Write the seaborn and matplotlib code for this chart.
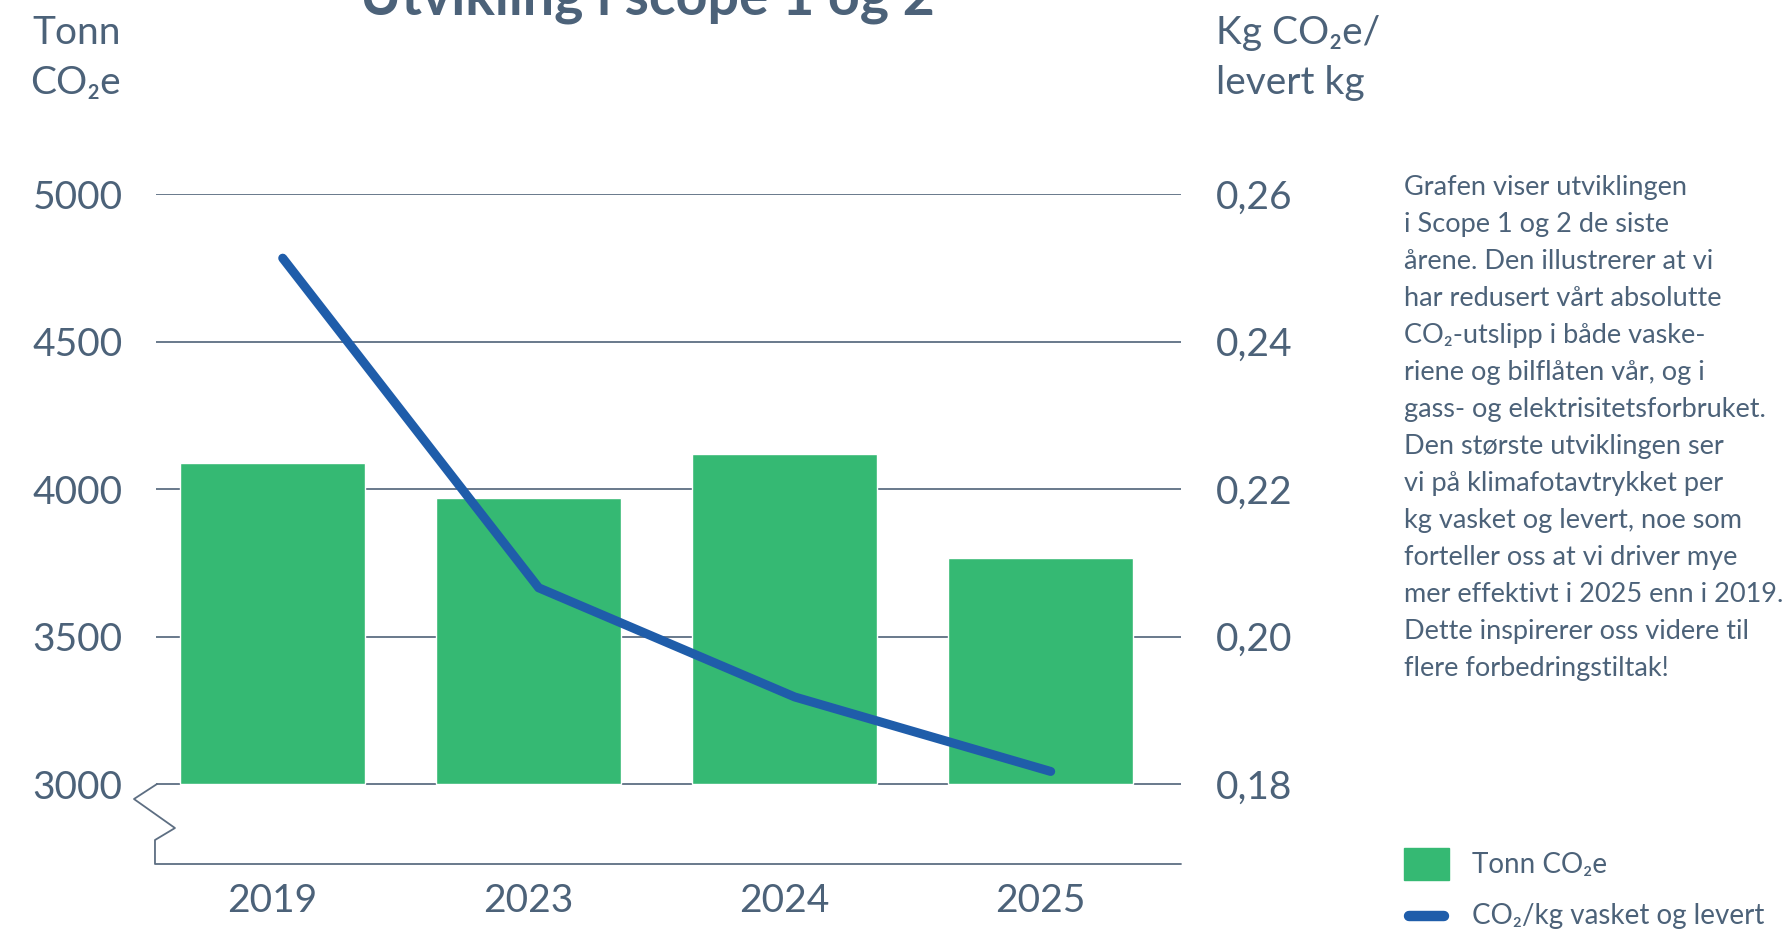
import numpy as np
import pandas as pd
import seaborn as sns
import matplotlib.pyplot as plt
from matplotlib.lines import Line2D
from matplotlib.patches import Rectangle

# ---- data ----
years = ["2019", "2023", "2024", "2025"]
tonn_co2e = [4090, 3970, 4120, 3765]
kg_per_kg = [0.2513, 0.2066, 0.1918, 0.1817]
bar_base = 3000
left_ticks = [3000, 3500, 4000, 4500, 5000]
right_ticks = [0.18, 0.20, 0.22, 0.24, 0.26]
right_tick_labels = ["0,18", "0,20", "0,22", "0,24", "0,26"]
title = "Utvikling i scope 1 og 2"
left_title = "Tonn\nCO\u2082e"
right_title = "Kg CO\u2082e/\nlevert kg"
legend_labels = ["Tonn CO\u2082e", "CO\u2082/kg vasket og levert"]
paragraph = [
    "Grafen viser utviklingen",
    "i Scope 1 og 2 de siste",
    "årene. Den illustrerer at vi",
    "har redusert vårt absolutte",
    "CO\u2082-utslipp i både vaske-",
    "riene og bilflåten vår, og i",
    "gass- og elektrisitetsforbruket.",
    "Den største utviklingen ser",
    "vi på klimafotavtrykket per",
    "kg vasket og levert, noe som",
    "forteller oss at vi driver mye",
    "mer effektivt i 2025 enn i 2019.",
    "Dette inspirerer oss videre til",
    "flere forbedringstiltak!",
]

GREEN = "#35b973"
BLUE = "#1f5daa"
TXT = "#4c6279"
GRID = "#5d6e82"

sns.set_theme(style="white")
plt.rcParams['font.family'] = ['Lato', 'DejaVu Sans']

W, H = 1789, 932
fig = plt.figure(figsize=(W / 100, H / 100), dpi=100)
ax = fig.add_axes([156 / W, 1 - 864 / H, (1181 - 156) / W, (864 - 194) / H])

df = pd.DataFrame({"year": years, "tonn": tonn_co2e})
sns.barplot(data=df, x="year", y="tonn", color=GREEN, saturation=1,
            width=0.72, ax=ax, zorder=2)
# bars start at the broken-axis base (3000)
for p in ax.patches:
    top = p.get_y() + p.get_height()
    p.set_y(bar_base)
    p.set_height(top - bar_base)

ax.set_ylim(2729, 5001)
ax.set_yticks(left_ticks)
ax.yaxis.grid(True, color=GRID, lw=1.3)
ax.set_axisbelow(True)
for s in ax.spines.values():
    s.set_visible(False)
ax.tick_params(axis='y', length=0, pad=24, labelsize=28, labelcolor=TXT)
ax.tick_params(axis='x', length=0, pad=14, labelsize=28, labelcolor=TXT)
ax.set_xlabel('')
ax.set_ylabel('')

ax2 = ax.twinx()
sns.lineplot(x=np.arange(len(years)) + 0.04, y=kg_per_kg, ax=ax2, color=BLUE,
             lw=6.5, solid_capstyle='round')
ax2.set_ylim(0.16915, 0.26)
ax2.set_yticks(right_ticks)
ax2.set_yticklabels(right_tick_labels)
ax2.tick_params(axis='y', length=0, pad=25, labelsize=28, labelcolor=TXT)
for s in ax2.spines.values():
    s.set_visible(False)
ax2.grid(False)
ax2.set_xlabel('')
ax2.set_ylabel('')
ax.set_xlim(-0.455, 3.549)

# axis break + baseline
bx = [0.001, -0.0215, 0.0185, -0.001, -0.001, 1.0]
by = [0.1194, 0.097, 0.0537, 0.0358, 0.0, 0.0]
ax.add_line(Line2D(bx, by, transform=ax.transAxes, color=GRID, lw=1.3,
                   clip_on=False, zorder=3))

# titles
fig.text(647 / W, 1 - 14 / H, title, ha='center', va='baseline',
         fontsize=40, fontweight='bold', color=TXT)
fig.text(121 / W, 1 - 58 / H, left_title, ha='right', va='center',
         fontsize=28, color=TXT, linespacing=1.45)
fig.text(1216 / W, 1 - 58 / H, right_title, ha='left', va='center',
         fontsize=28, color=TXT, linespacing=1.45)

# paragraph
fig.text(1404 / W, 1 - 175 / H, "\n".join(paragraph), ha='left', va='top',
         fontsize=19.5, color=TXT, linespacing=1.6)

# legend
fig.add_artist(Rectangle((1404 / W, 1 - 880 / H), 45 / W, 32 / H,
                         transform=fig.transFigure, color=GREEN))
fig.add_artist(Line2D([1409 / W, 1444 / W], [1 - 916 / H, 1 - 916 / H],
                      transform=fig.transFigure, color=BLUE, lw=7.5,
                      solid_capstyle='round'))
fig.text(1472 / W, 1 - 865 / H, legend_labels[0], ha='left', va='center',
         fontsize=20, color=TXT)
fig.text(1472 / W, 1 - 916 / H, legend_labels[1], ha='left', va='center',
         fontsize=20, color=TXT)

fig.savefig("out.png", dpi=100)
